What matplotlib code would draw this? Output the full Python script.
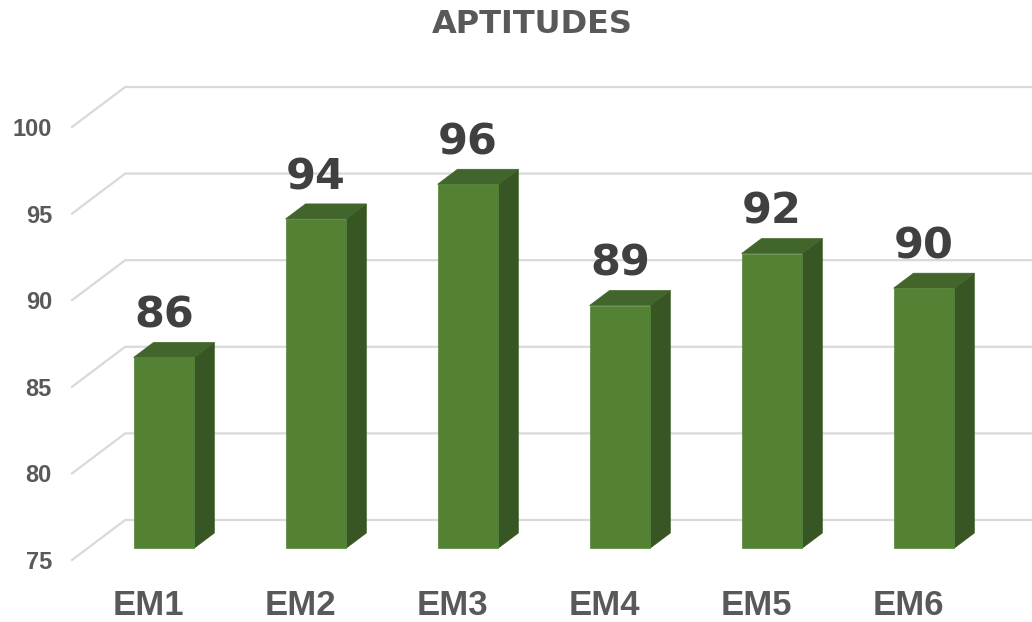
import matplotlib.pyplot as plt
from matplotlib.patches import Polygon
from matplotlib.transforms import blended_transform_factory

# chart data
categories = ["EM1", "EM2", "EM3", "EM4", "EM5", "EM6"]
scores = [86, 94, 96, 89, 92, 90]
y_ticks = [75, 80, 85, 90, 95, 100]
title = "APTITUDES"

# oblique 3d look: one unit of depth moves a point this far in data units
DX, DY = 0.35, 2.31
Z0, Z1 = 0.3, 0.675      # front / back of the columns inside the floor
HALF = 0.2               # half width of a column

FRONT, TOP, SIDE = "#548235", "#41652a", "#375623"
GRID = "#d9d9d9"
TXT = "#595959"


def proj(x, y, z):
    return (x + z * DX, y + z * DY)


fig = plt.figure(figsize=(10.32, 6.22), dpi=100)
ax = fig.add_axes([72 / 1032, 62 / 622, 912 / 1032, 433 / 622])
ax.set_xlim(-0.5, 5.5)
ax.set_ylim(y_ticks[0], y_ticks[-1])
ax.patch.set_visible(False)
for s in ax.spines.values():
    s.set_visible(False)

# gridlines on the left wall and the back wall
for v in y_ticks:
    pts = [proj(-0.5, v, 0), proj(-0.5, v, 1), proj(len(categories) + 1, v, 1)]
    ax.plot([p[0] for p in pts], [p[1] for p in pts], color=GRID, lw=1.6,
            clip_on=False, zorder=1, solid_joinstyle="miter")

# columns
base = y_ticks[0]
for i, v in enumerate(scores):
    l, r = i - HALF, i + HALF
    side = [proj(r, base, Z0), proj(r, base, Z1), proj(r, v, Z1), proj(r, v, Z0)]
    top = [proj(l, v, Z0), proj(l, v, Z1), proj(r, v, Z1), proj(r, v, Z0)]
    front = [proj(l, base, Z0), proj(r, base, Z0), proj(r, v, Z0), proj(l, v, Z0)]
    ax.add_patch(Polygon(side, closed=True, fc=SIDE, ec=SIDE, lw=0.5, clip_on=False, zorder=2))
    ax.add_patch(Polygon(top, closed=True, fc=TOP, ec=TOP, lw=0.5, clip_on=False, zorder=2))
    ax.add_patch(Polygon(front, closed=True, fc=FRONT, ec=FRONT, lw=0.5, clip_on=False, zorder=3))

    lx, ly = proj(i, v, Z1)
    ax.annotate(str(v), (proj(i, v, Z0)[0], ly), xytext=(0, 10.5), textcoords="offset points",
                ha="center", va="baseline", fontsize=31, fontweight="bold",
                family="DejaVu Sans", color="#404040", zorder=4, annotation_clip=False)

# axis labels
ax.set_xticks([])
ax.set_yticks(y_ticks, labels=[str(t) for t in y_ticks], fontweight="bold",
              family="Liberation Sans")
ax.tick_params(axis="y", length=0, pad=14.4, labelsize=17, labelcolor=TXT)

trans = blended_transform_factory(ax.transData, fig.transFigure)
for i, c in enumerate(categories):
    ax.text(i, 7 / 622, c, transform=trans, ha="center", va="baseline",
            fontsize=25, fontweight="bold", family="Liberation Sans", color=TXT)

fig.text(532 / 1032, 1 - 33 / 622, title, ha="center", va="baseline",
         fontsize=23, fontweight="bold", family="DejaVu Sans", color=TXT)

fig.savefig("out.png", dpi=100)
